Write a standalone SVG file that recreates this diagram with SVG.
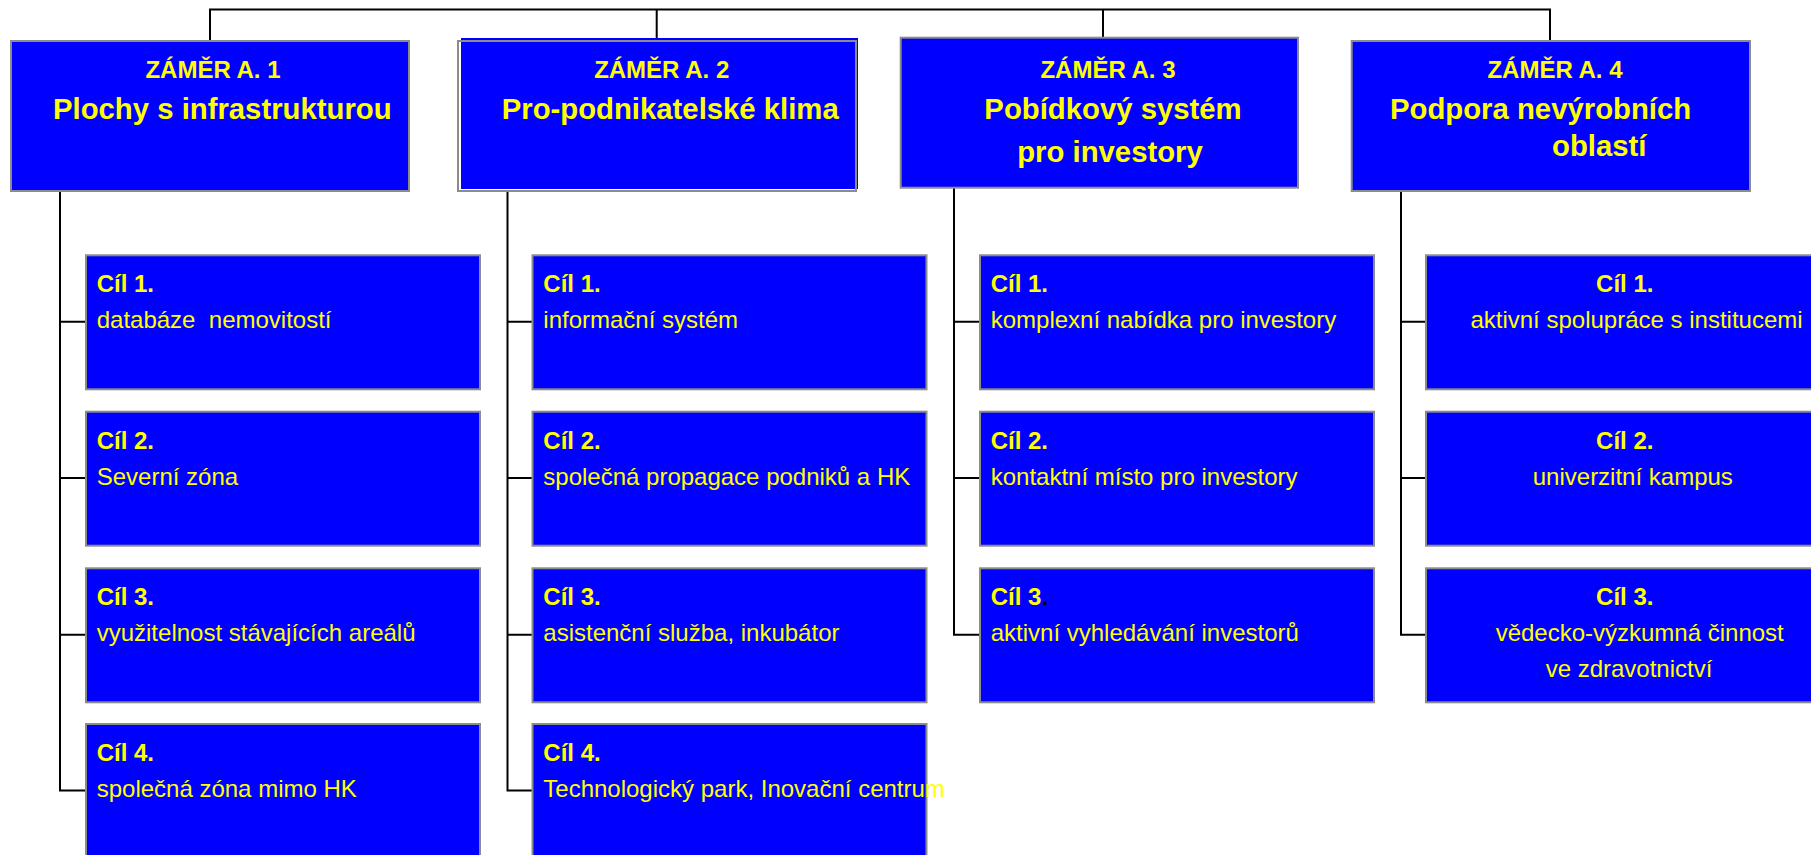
<svg xmlns="http://www.w3.org/2000/svg" width="1811" height="855" viewBox="0 0 1811 855">
<style>
.box{fill:#0000FF;stroke:#8C8C8C;stroke-width:2}
.frame{fill:none;stroke:#8C8C8C;stroke-width:2}
.t{font-family:"Liberation Sans",Arial,sans-serif;fill:#FFFF00}
.h{font-size:24px;font-weight:bold}
.big{font-size:29.3px;font-weight:bold}
.b{font-size:24px;font-weight:bold}
.r{font-size:24px}
.c{text-anchor:middle}
.ln{fill:none;stroke:#000;stroke-width:2}
</style>
<rect width="1811" height="855" fill="#fff"/>
<g id="connectors">
<path class="ln" d="M210 41V9.5H1550V41M656.7 9.5V38M1103 9.5V37.7"/>
<path class="ln" d="M60 191V790.5H86M60 321.8H86M60 478H86M60 634.7H86"/>
<path class="ln" d="M507.5 190V790.5H532.5M507.5 321.8H532.5M507.5 478H532.5M507.5 634.7H532.5"/>
<path class="ln" d="M954 188V634.7H980M954 321.8H980M954 478H980"/>
<path class="ln" d="M1401 191V634.7H1426M1401 321.8H1426M1401 478H1426"/>
</g>
<g id="zamer-a1">
<rect class="box" x="11" y="41" width="398" height="150"/>
<text class="t h c" x="213" y="78">ZÁMĚR A. 1</text>
<text class="t big" x="53" y="119">Plochy s infrastrukturou</text>
</g>
<g id="zamer-a2">
<rect x="461" y="38" width="397" height="151" fill="#0000FF"/>
<rect class="frame" x="458" y="41" width="398" height="150"/>
<text class="t h c" x="661.7" y="78">ZÁMĚR A. 2</text>
<text class="t big" x="501.7" y="119">Pro-podnikatelské klima</text>
</g>
<g id="zamer-a3">
<rect class="box" x="900.7" y="37.7" width="397.3" height="150"/>
<text class="t h c" x="1108" y="78">ZÁMĚR A. 3</text>
<text class="t big c" x="1113" y="119">Pobídkový systém</text>
<text class="t big c" x="1110" y="162">pro investory</text>
</g>
<g id="zamer-a4">
<rect class="box" x="1351.7" y="41" width="398.3" height="150"/>
<text class="t h c" x="1555" y="78">ZÁMĚR A. 4</text>
<text class="t big" x="1390" y="119">Podpora nevýrobních</text>
<text class="t big" x="1552" y="155.7">oblastí</text>
</g>
<g id="a1-cil1"><rect class="box" x="86" y="255.3" width="394" height="134"/><text class="t b" x="96.7" y="292.3">Cíl 1.</text><text class="t r" x="96.7" y="328.3" xml:space="preserve">databáze  nemovitostí</text></g>
<g id="a1-cil2"><rect class="box" x="86" y="411.7" width="394" height="134"/><text class="t b" x="96.7" y="448.7">Cíl 2.</text><text class="t r" x="96.7" y="484.7">Severní zóna</text></g>
<g id="a1-cil3"><rect class="box" x="86" y="568.3" width="394" height="134"/><text class="t b" x="96.7" y="605.3">Cíl 3.</text><text class="t r" x="96.7" y="641.3">využitelnost stávajících areálů</text></g>
<g id="a1-cil4"><rect class="box" x="86" y="724" width="394" height="134"/><text class="t b" x="96.7" y="761">Cíl 4.</text><text class="t r" x="96.7" y="796.5">společná zóna mimo HK</text></g>
<g id="a2-cil1"><rect class="box" x="532.5" y="255.3" width="394" height="134"/><text class="t b" x="543.3" y="292.3">Cíl 1.</text><text class="t r" x="543.3" y="328.3">informační systém</text></g>
<g id="a2-cil2"><rect class="box" x="532.5" y="411.7" width="394" height="134"/><text class="t b" x="543.3" y="448.7">Cíl 2.</text><text class="t r" x="543.3" y="484.7">společná propagace podniků a HK</text></g>
<g id="a2-cil3"><rect class="box" x="532.5" y="568.3" width="394" height="134"/><text class="t b" x="543.3" y="605.3">Cíl 3.</text><text class="t r" x="543.3" y="641.3">asistenční služba, inkubátor</text></g>
<g id="a2-cil4"><rect class="box" x="532.5" y="724" width="394" height="134"/><text class="t b" x="543.3" y="761">Cíl 4.</text><text class="t r" x="543.3" y="796.5">Technologický park, Inovační centrum</text></g>
<g id="a3-cil1"><rect class="box" x="980" y="255.3" width="394" height="134"/><text class="t b" x="990.7" y="292.3">Cíl 1.</text><text class="t r" x="990.7" y="328.3">komplexní nabídka pro investory</text></g>
<g id="a3-cil2"><rect class="box" x="980" y="411.7" width="394" height="134"/><text class="t b" x="990.7" y="448.7">Cíl 2.</text><text class="t r" x="990.7" y="484.7">kontaktní místo pro investory</text></g>
<g id="a3-cil3"><rect class="box" x="980" y="568.3" width="394" height="134"/><text class="t b" x="990.7" y="605.3">Cíl 3<tspan fill="#000">.</tspan></text><text class="t r" x="990.7" y="641.3">aktivní vyhledávání investorů</text></g>
<g id="a4-cil1"><rect class="box" x="1426" y="255.3" width="394" height="134"/><text class="t b c" x="1624.8" y="292.3">Cíl 1.</text><text class="t r c" x="1636.5" y="328.3">aktivní spolupráce s institucemi</text></g>
<g id="a4-cil2"><rect class="box" x="1426" y="411.7" width="394" height="134"/><text class="t b c" x="1624.8" y="448.7">Cíl 2.</text><text class="t r c" x="1632.8" y="484.7">univerzitní kampus</text></g>
<g id="a4-cil3"><rect class="box" x="1426" y="568.3" width="394" height="134"/><text class="t b c" x="1624.8" y="605.3">Cíl 3.</text><text class="t r c" x="1639.7" y="641.3">vědecko-výzkumná činnost</text><text class="t r c" x="1629" y="677">ve zdravotnictví</text></g>
</svg>
